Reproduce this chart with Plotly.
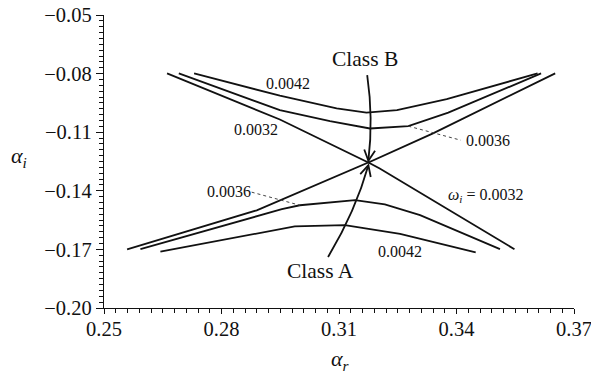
import math
import plotly.graph_objects as go

# Neutral curves in the complex wavenumber plane, one pair per omega_i
# Upper branch (Class B side) and lower branch (Class A side)
ar_0032_up = [0.2661, 0.2949, 0.3175, 0.3340, 0.3652]
ai_0032_up = [-0.0799, -0.1035, -0.1255, -0.1106, -0.0799]
ar_0032_lo = [0.2559, 0.2890, 0.3175, 0.3204, 0.3548]
ai_0032_lo = [-0.1700, -0.1500, -0.1255, -0.1286, -0.1699]

ar_0036_up = [0.2691, 0.2949, 0.3077, 0.3179, 0.3277, 0.3379, 0.3616]
ai_0036_up = [-0.0799, -0.0987, -0.1043, -0.1081, -0.1069, -0.1000, -0.0799]
ar_0036_lo = [0.2593, 0.2898, 0.2954, 0.3000, 0.3141, 0.3217, 0.3307, 0.3511]
ai_0036_lo = [-0.1699, -0.1525, -0.1494, -0.1474, -0.1448, -0.1469, -0.1525, -0.1699]

ar_0042_up = [0.2730, 0.2949, 0.3094, 0.3170, 0.3248, 0.3375, 0.3607]
ai_0042_up = [-0.0799, -0.0913, -0.0978, -0.1000, -0.0987, -0.0931, -0.0799]
ar_0042_lo = [0.2644, 0.2864, 0.2987, 0.3115, 0.3256, 0.3449]
ai_0042_lo = [-0.1712, -0.1628, -0.1582, -0.1576, -0.1620, -0.1715]

x_ticks = [0.25, 0.28, 0.31, 0.34, 0.37]
x_ticktext = ["0.25", "0.28", "0.31", "0.34", "0.37"]
y_ticks = [-0.20, -0.17, -0.14, -0.11, -0.08, -0.05]
y_ticktext = ["\u22120.20", "\u22120.17", "\u22120.14", "\u22120.11", "\u22120.08", "\u22120.05"]

X_RANGE = [0.25, 0.37]
Y_RANGE = [-0.20, -0.05]
W, H = 591, 373
M = dict(l=104, r=17, t=15, b=65)
FONT = "Liberation Serif"
INK = "#111111"

fig = go.Figure()
for xs, ys in [(ar_0032_up, ai_0032_up), (ar_0032_lo, ai_0032_lo),
               (ar_0036_up, ai_0036_up), (ar_0036_lo, ai_0036_lo),
               (ar_0042_up, ai_0042_up), (ar_0042_lo, ai_0042_lo)]:
    fig.add_trace(go.Scatter(x=xs, y=ys, mode="lines",
                             line=dict(color=INK, width=1.8),
                             showlegend=False, hoverinfo="skip"))

# conversions between data, pixel and paper space (arrowheads, axis titles)
pw = W - M["l"] - M["r"]
ph = H - M["t"] - M["b"]
def to_px(x, y):
    return (M["l"] + (x - X_RANGE[0]) / (X_RANGE[1] - X_RANGE[0]) * pw,
            M["t"] + (Y_RANGE[1] - y) / (Y_RANGE[1] - Y_RANGE[0]) * ph)
def to_data(px, py):
    return (X_RANGE[0] + (px - M["l"]) / pw * (X_RANGE[1] - X_RANGE[0]),
            Y_RANGE[1] - (py - M["t"]) / ph * (Y_RANGE[1] - Y_RANGE[0]))
def to_paper(px, py):
    return ((px - M["l"]) / pw, 1 - (py - M["t"]) / ph)

def curved_arrow(p0, c, p1, head=12, half_angle=27):
    fig.add_shape(type="path", xref="x", yref="y",
                  path=f"M {p0[0]},{p0[1]} Q {c[0]},{c[1]} {p1[0]},{p1[1]}",
                  line=dict(color=INK, width=1.8))
    tx, ty = to_px(*p1)
    cx, cy = to_px(*c)
    ang = math.atan2(cy - ty, cx - tx)
    pts = []
    for s in (-1, 1):
        a = ang + s * math.radians(half_angle)
        pts.append(to_data(tx + head * math.cos(a), ty + head * math.sin(a)))
    fig.add_shape(type="path", xref="x", yref="y",
                  path=f"M {pts[0][0]},{pts[0][1]} L {p1[0]},{p1[1]} L {pts[1][0]},{pts[1][1]}",
                  line=dict(color=INK, width=1.8))

# Class B arrow (from above) and Class A arrow (from below) pointing to the saddle
curved_arrow((0.3172, -0.0808), (0.3188, -0.1030), (0.3175, -0.1246))
curved_arrow((0.3072, -0.1739), (0.3142, -0.1505), (0.3175, -0.1269))

# dotted leader lines for the 0.0036 labels
fig.add_shape(type="line", xref="x", yref="y",
              x0=ar_0036_up[4], y0=ai_0036_up[4], x1=0.3411, y1=-0.1141,
              line=dict(color="#444444", width=1, dash="dot"))
fig.add_shape(type="line", xref="x", yref="y",
              x0=0.2877, y0=-0.1407, x1=ar_0036_lo[3], y1=ai_0036_lo[3],
              line=dict(color="#444444", width=1, dash="dot"))

labels = [
    (0.2969, -0.0849, "0.0042", 16),
    (0.2888, -0.1084, "0.0032", 16),
    (0.3480, -0.1141, "0.0036", 16),
    (0.2819, -0.1401, "0.0036", 16),
    (0.3256, -0.1710, "0.0042", 16),
    (0.3473, -0.1423, "<i>\u03c9<sub>i</sub></i> = 0.0032", 16),
    (0.3167, -0.0726, "Class B", 21.5),
    (0.3054, -0.1812, "Class A", 21.5),
]
for x, y, t, s in labels:
    fig.add_annotation(x=x, y=y, xref="x", yref="y", text=t, showarrow=False,
                       font=dict(family=FONT, size=s, color=INK))

# axis titles (horizontal, placed outside the plotting area)
for (px, py), t in [((19, 157), "<i>\u03b1<sub>i</sub></i>"),
                    ((340, 360), "<i>\u03b1<sub>r</sub></i>")]:
    xp, yp = to_paper(px, py)
    fig.add_annotation(x=xp, y=yp, xref="paper", yref="paper", text=t,
                       xanchor="center", yanchor="middle",
                       showarrow=False, font=dict(family=FONT, size=22, color=INK))

axis_common = dict(showline=True, linecolor=INK, linewidth=1.3, showgrid=False,
                   zeroline=False, ticks="outside", tickwidth=1.3,
                   tickcolor=INK, ticklabeloverflow="allow", automargin=False,
                   tickfont=dict(family=FONT, size=20.5, color=INK))
fig.update_xaxes(range=X_RANGE, tickvals=x_ticks, ticktext=x_ticktext, ticklen=5,
                 ticklabelstandoff=-3,
                 minor=dict(dtick=0.003, tick0=0.25, ticks="outside", ticklen=4,
                            tickwidth=1, tickcolor=INK),
                 **axis_common)
fig.update_yaxes(range=Y_RANGE, tickvals=y_ticks, ticktext=y_ticktext, ticklen=7,
                 minor=dict(dtick=0.003, tick0=-0.20, ticks="outside", ticklen=4,
                            tickwidth=1, tickcolor=INK),
                 **axis_common)

fig.update_layout(width=W, height=H, margin=M, plot_bgcolor="white",
                  paper_bgcolor="white", showlegend=False)
fig.write_html("out.html")
